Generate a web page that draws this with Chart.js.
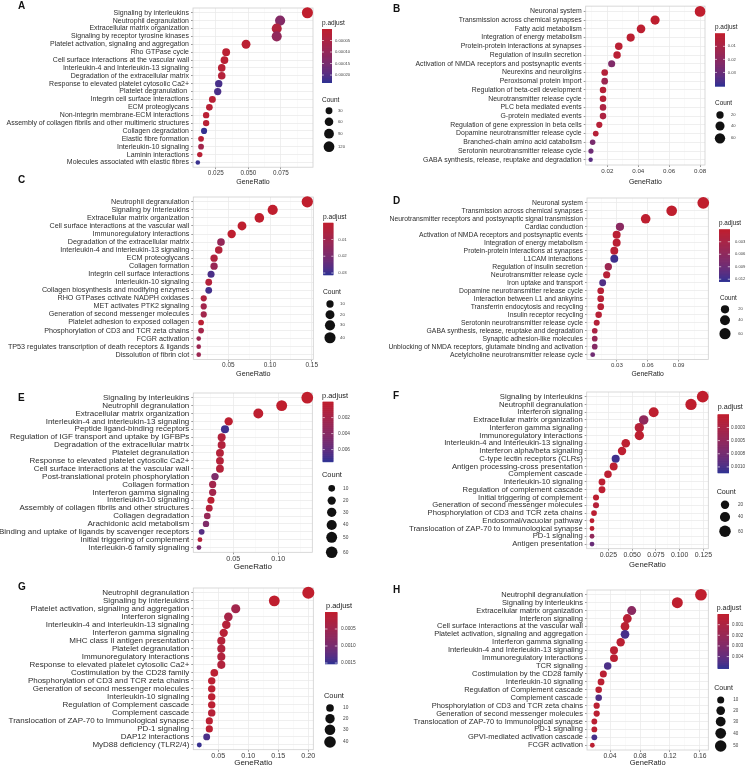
<!DOCTYPE html>
<html><head><meta charset="utf-8">
<script src="https://cdn.jsdelivr.net/npm/chart.js@4.4.1/dist/chart.umd.min.js"></script>
<style>
html,body{margin:0;padding:0;background:#fff;}
#wrap{position:relative;width:750px;height:768px;overflow:hidden;background:#fff;}
canvas{position:absolute;}
.lbl{position:absolute;font:bold 10px "Liberation Sans",Arial,sans-serif;line-height:10px;color:#111;}
</style></head><body><div id="wrap"></div>
<script>
// ---------------- DATA ----------------
const A_terms = ["Signaling by interleukins","Neutrophil degranulation","Extracellular matrix organization","Signaling by receptor tyrosine kinases","Platelet activation, signaling and aggregation","Rho GTPase cycle","Cell surface interactions at the vascular wall","Interleukin-4 and Interleukin-13 signaling","Degradation of the extracellular matrix","Response to elevated platelet cytosolic Ca2+","Platelet degranulation ","Integrin cell surface interactions","ECM proteoglycans","Non-integrin membrane-ECM interactions","Assembly of collagen fibrils and other multimeric structures","Collagen degradation","Elastic fibre formation","Interleukin-10 signaling","Laminin interactions","Molecules associated with elastic fibres"];
const A_ratio = [0.0955,0.0745,0.0719,0.0719,0.0483,0.0330,0.0317,0.0296,0.0296,0.0273,0.0265,0.0224,0.0201,0.0176,0.0176,0.0160,0.0137,0.0137,0.0127,0.0112];
const A_count = [130,101,98,98,66,45,43,40,40,37,36,30,27,24,24,22,19,19,17,15];
const A_padj = [0.000001,0.00013,0.000035,0.000105,0.000012,0.000012,0.000015,0.00002,0.000028,0.000213,0.00021,0.00002,0.00002,0.000015,0.00002,0.000228,0.00002,0.00007,0.00002,0.000225];
const A_prange = [0, 0.000232];
const A_xticks = [0.025,0.05,0.075], A_xlabels = ["0.025","0.050","0.075"], A_xminor = [0.0125,0.0375,0.0625,0.0875];
const A_pbreaks = [0.00005,0.0001,0.00015,0.0002], A_plabels = ["0.00005","0.00010","0.00015","0.00020"];
const A_sbreaks = [30,60,90,120];

const B_terms = ["Neuronal system","Transmission across chemical synapses","Fatty acid metabolism","Integration of energy metabolism","Protein-protein interactions at synapses","Regulation of insulin secretion","Activation of NMDA receptors and postsynaptic events","Neurexins and neuroligins","Peroxisomal protein import","Regulation of beta-cell development","Neurotransmitter release cycle","PLC beta mediated events","G-protein mediated events","Regulation of gene expression in beta cells","Dopamine neurotransmitter release cycle","Branched-chain amino acid catabolism","Serotonin neurotransmitter release cycle","GABA synthesis, release, reuptake and degradation"];
const B_ratio = [0.0800,0.0509,0.0418,0.0351,0.0274,0.0263,0.0228,0.0183,0.0183,0.0172,0.0172,0.0172,0.0172,0.0148,0.0125,0.0105,0.0094,0.0092];
const B_count = [65,41,34,28,22,21,18,15,15,14,14,14,14,12,10,9,8,7];
const B_padj = [0.0002,0.0008,0.0015,0.002,0.0025,0.003,0.024,0.005,0.014,0.004,0.004,0.008,0.008,0.004,0.004,0.026,0.029,0.034];
const B_prange = [0, 0.0404];
const B_xticks = [0.02,0.04,0.06,0.08], B_xlabels = ["0.02","0.04","0.06","0.08"], B_xminor = [0.01,0.03,0.05,0.07];
const B_pbreaks = [0.01,0.02,0.03], B_plabels = ["0.01","0.02","0.03"];
const B_sbreaks = [20,40,60];

const C_terms = ["Neutrophil degranulation","Signaling by Interleukins","Extracellular matrix organization","Cell surface interactions at the vascular wall","Immunoregulatory interactions","Degradation of the extracellular matrix","Interleukin-4 and interleukin-13 signaling","ECM proteoglycans","Collagen formation","Integrin cell surface interactions","Interleukin-10 signaling","Collagen biosynthesis and modifying enzymes","RHO GTPases cctivate NADPH oxidases","MET activates PTK2 signaling","Generation of second messenger molecules","Platelet adhesion to exposed collagen","Phosphorylation of CD3 and TCR zeta chains","FCGR activation","TP53 regulates transcription of death receptors & ligands","Dissolution of fibrin clot"];
const C_ratio = [0.1447,0.1032,0.0872,0.0664,0.0540,0.0412,0.0385,0.0329,0.0329,0.0293,0.0265,0.0265,0.0205,0.0205,0.0205,0.0173,0.0173,0.0145,0.0145,0.0145];
const C_count = [42,30,25,19,16,12,11,10,10,9,8,8,6,6,6,5,5,4,4,4];
const C_padj = [0.0001,0.0003,0.0003,0.0005,0.0008,0.013,0.004,0.0052,0.012,0.028,0.0038,0.029,0.0056,0.0093,0.0093,0.002,0.0087,0.011,0.011,0.011];
const C_prange = [0, 0.031];
const C_xticks = [0.05,0.10,0.15], C_xlabels = ["0.05","0.10","0.15"], C_xminor = [0.025,0.075,0.125];
const C_pbreaks = [0.01,0.02,0.03], C_plabels = ["0.01","0.02","0.03"];
const C_sbreaks = [10,20,30,40];

const D_terms = ["Neuronal system","Transmission across chemical synapses","Neurotransmitter receptors and postsynaptic signal transmission","Cardiac conduction","Activation of NMDA receptors and postsynaptic events","Integration of energy metabolism","Protein-protein interactions at synapses","L1CAM interactions","Regulation of insulin secretion","Neurotransmitter release cycle","Iron uptake and transport","Dopamine neurotransmitter release cycle","Interaction between L1 and ankyrins","Transferrin endocytosis and recycling","Insulin receptor recycling","Serotonin neurotransmitter release cycle","GABA synthesis, release, reuptake and degradation","Synaptic adhesion-like molecules","Unblocking of NMDA receptors, glutamate binding and activation","Acetylcholine neurotransmitter release cycle"];
const D_ratio = [0.1140,0.0833,0.0580,0.0330,0.0298,0.0298,0.0275,0.0275,0.0217,0.0201,0.0162,0.0143,0.0143,0.0143,0.0123,0.0104,0.0085,0.0085,0.0085,0.0065];
const D_count = [70,51,36,20,18,18,17,17,13,12,10,9,9,9,8,6,5,5,5,4];
const D_padj = [0.00001,0.0001,0.0003,0.0063,0.0008,0.0008,0.001,0.0119,0.0044,0.0012,0.011,0.0012,0.0012,0.0012,0.0012,0.0015,0.0028,0.005,0.0069,0.0088];
const D_prange = [0, 0.0125];
const D_xticks = [0.03,0.06,0.09], D_xlabels = ["0.03","0.06","0.09"], D_xminor = [0.015,0.045,0.075,0.105];
const D_pbreaks = [0.003,0.006,0.009,0.012], D_plabels = ["0.003","0.006","0.009","0.012"];
const D_sbreaks = [20,40,60];

const E_terms = ["Signaling by interleukins","Neutrophil degranulation","Extracellular matrix organization","Interleukin-4 and interleukin-13 signaling","Peptide ligand-binding receptors","Regulation of IGF transport and uptake by IGFBPs","Degradation of the extracellular matrix","Platelet degranulation","Response to elevated platelet cytosolic Ca2+","Cell surface interactions at the vascular wall","Post-translational protein phosphorylation","Collagen formation","Interferon gamma signaling","Interleukin-10 signaling","Assembly of collagen fibrils and other structures","Collagen degradation","Arachidonic acid metabolism","Binding and uptake of ligands by scavenger receptors","Initial triggering of complement","Interleukin-6 family signaling"];
const E_ratio = [0.1322,0.1038,0.0778,0.0449,0.0408,0.0371,0.0371,0.0352,0.0352,0.0352,0.0297,0.0271,0.0271,0.0252,0.0233,0.0211,0.0197,0.0149,0.0130,0.0119];
const E_count = [63,50,37,21,19,18,18,17,17,17,14,13,13,12,11,10,9,7,6,6];
const E_padj = [0.00001,0.0001,0.0002,0.0003,0.0071,0.0011,0.0011,0.0009,0.0009,0.0009,0.0045,0.0022,0.0022,0.0004,0.0011,0.003,0.0045,0.0064,0.0008,0.0049];
const E_prange = [0, 0.0075];
const E_xticks = [0.05,0.10], E_xlabels = ["0.05","0.10"], E_xminor = [0.025,0.075,0.125];
const E_pbreaks = [0.002,0.004,0.006], E_plabels = ["0.002","0.004","0.006"];
const E_sbreaks = [10,20,30,40,50,60];

const F_terms = ["Signaling by interleukins","Neutrophil degranulation","Interferon signaling","Extracellular matrix organization","Interferon gamma signaling","Immunoregulatory interactions","Interleukin-4 and Interleukin-13 signaling","Interferon alpha/beta signaling","C-type lectin receptors (CLRs)","Antigen processing-cross presentation","Complement cascade","Interleukin-10 signaling","Regulation of complement cascade","Initial triggering of complement","Generation of second messenger molecules","Phosphorylation of CD3 and TCR zeta chains","Endosomal/vacuolar pathway","Translocation of ZAP-70 to Immunological synapse","PD-1 signaling","Antigen presentation"];
const F_ratio = [0.1243,0.1120,0.0727,0.0622,0.0576,0.0576,0.0433,0.0394,0.0327,0.0306,0.0246,0.0183,0.0183,0.0120,0.0120,0.0099,0.0078,0.0078,0.0078,0.0078];
const F_count = [64,57,37,32,30,30,22,20,17,16,13,9,9,6,6,5,4,4,4,4];
const F_padj = [0.000001,0.00001,0.00002,0.0005,0.00011,0.00003,0.00003,0.00004,0.00105,0.00004,0.00005,0.00005,0.00005,0.00005,0.00013,0.00006,0.00006,0.00006,0.0005,0.00083];
const F_prange = [0, 0.00111];
const F_xticks = [0.025,0.05,0.075,0.1,0.125], F_xlabels = ["0.025","0.050","0.075","0.100","0.125"], F_xminor = [0.0125,0.0375,0.0625,0.0875,0.1125];
const F_pbreaks = [0.00025,0.0005,0.00075,0.001], F_plabels = ["0.0003","0.0005","0.0008","0.0010"];
const F_sbreaks = [20,40,60];

const G_terms = ["Neutrophil degranulation","Signaling by interleukins","Platelet activation, signaling and aggregation","Interferon signaling","Interleukin-4 and interleukin-13 signaling","Interferon gamma signaling","MHC class II antigen presentation","Platelet degranulation","Immunoregulatory interactions","Response to elevated platelet cytosolic Ca2+","Costimulation by the CD28 family","Phosphorylation of CD3 and TCR zeta chains","Generation of second messenger molecules","Interleukin-10 signaling","Regulation of Complement cascade","Complement cascade","Translocation of ZAP-70 to Immunological synapse","PD-1 signaling","DAP12 interactions","MyD88 deficiency (TLR2/4)"];
const G_ratio = [0.2000,0.1433,0.0790,0.0667,0.0633,0.0590,0.0550,0.0550,0.0550,0.0550,0.0433,0.0390,0.0390,0.0390,0.0390,0.0390,0.0350,0.0350,0.0306,0.0183];
const G_count = [45,32,18,15,14,13,12,12,12,12,10,9,9,9,9,9,8,8,7,4];
const G_padj = [0.000001,0.00001,0.00045,0.00038,0.00018,0.00012,0.00018,0.00023,0.00023,0.00023,0.00008,0.00008,0.00008,0.00008,0.00008,0.00015,0.00008,0.00008,0.00137,0.00148];
const G_prange = [0, 0.00152];
const G_xticks = [0.05,0.10,0.15,0.20], G_xlabels = ["0.05","0.10","0.15","0.20"], G_xminor = [0.025,0.075,0.125,0.175];
const G_pbreaks = [0.0005,0.001,0.0015], G_plabels = ["0.0005","0.0010","0.0015"];
const G_sbreaks = [10,20,30,40];

const H_terms = ["Neutrophil degranulation","Signaling by interleukins","Extracellular matrix organization","Interferon signaling","Cell surface interactions at the vascular wall","Platelet activation, signaling and aggregation","Interferon gamma signaling","Interleukin-4 and Interleukin-13 signaling","Immunoregulatory interactions","TCR signaling","Costimulation by the CD28 family","Interleukin-10 signaling","Regulation of Complement cascade","Complement cascade","Phosphorylation of CD3 and TCR zeta chains","Generation of second messenger molecules","Translocation of ZAP-70 to Immunological synapse","PD-1 signaling","GPVI-mediated activation cascade","FCGR activation"];
const H_ratio = [0.1613,0.1298,0.0689,0.0631,0.0600,0.0600,0.0542,0.0453,0.0453,0.0369,0.0311,0.0280,0.0249,0.0249,0.0222,0.0222,0.0191,0.0191,0.0191,0.0164];
const H_count = [53,43,23,21,20,20,18,15,15,12,10,9,8,8,7,7,6,6,6,5];
const H_padj = [0.00001,0.0001,0.0026,0.00035,0.0003,0.0047,0.0003,0.0003,0.0003,0.0046,0.0003,0.0003,0.0003,0.0045,0.0003,0.0003,0.0003,0.0003,0.0047,0.0003];
const H_prange = [0, 0.0051];
const H_xticks = [0.04,0.08,0.12,0.16], H_xlabels = ["0.04","0.08","0.12","0.16"], H_xminor = [0.02,0.06,0.10,0.14];
const H_pbreaks = [0.001,0.002,0.003,0.004], H_plabels = ["0.001","0.002","0.003","0.004"];
const H_sbreaks = [10,20,30,40,50];

// ---------------- LAYOUT (page pixels) ----------------
const LAYOUT = {
 A:{left:0,  plot:[193,8.3,313,167.5],   tick:173.3, title:182.7, fs:7.0, k:1.3,  x:[0.0075,0.0998], letter:[18,2.7],
    cbT:[322,24], bar:[322,29.3,332,82.7], cbLx:335, szT:[322,101], szCx:329, szYs:[111,122,134,147], szLx:338},
 B:{left:375,plot:[585.7,4,705,165],     tick:171.7, title:181.7, fs:6.9, k:1.25, x:[0.006,0.0832], letter:[393,5],
    cbT:[715,27.7], bar:[715,33.3,725,86], cbLx:727.7, szT:[715,103.3], szCx:720, szYs:[115,126,138.3], szLx:731},
 C:{left:0,  plot:[193.3,197,313.3,359.5],tick:365.2, title:374.3, fs:7.2, k:1.33, x:[0.008,0.1519], letter:[18,176.7],
    cbT:[323,217], bar:[323.3,222.7,333.3,274.7], cbLx:338.3, szT:[323,292], szCx:330, szYs:[304,314.7,325.3,337.7], szLx:340},
 D:{left:375,plot:[587,198,708.3,359.5], tick:365,   title:374,   fs:6.8, k:1.38, x:[0.00097,0.1189], letter:[393,197],
    cbT:[719,223], bar:[719,229.3,730,281.3], cbLx:735, szT:[720,298], szCx:725, szYs:[309.3,320.3,333.7], szLx:738.3},
 E:{left:0,  plot:[193.3,392.7,312.3,552],tick:557,   title:566,   fs:8.0, k:1.38, x:[0.0056,0.1378], letter:[18,394.7],
    cbT:[322,396], bar:[322.7,401.3,333.3,461.3], cbLx:338, szT:[322,474.7], szCx:331.7, szYs:[488,500.3,512,524.7,537,552], szLx:343},
 F:{left:375,plot:[586.7,392,708.3,548.7],tick:555.3, title:564.7, fs:7.7, k:1.38, x:[0.0022,0.1302], letter:[393,392],
    cbT:[717.7,407], bar:[717.7,414.3,729,472.7], cbLx:731, szT:[716.7,492], szCx:725, szYs:[504.7,517,531.3], szLx:738},
 G:{left:0,  plot:[193.3,588,313.3,749.7],tick:755.7, title:762.3, fs:8.0, k:1.42, x:[0.0083,0.2083], letter:[18,583],
    cbT:[326,605.7], bar:[325,612,337.3,663.7], cbLx:341, szT:[324,696.3], szCx:330, szYs:[708,718.7,729.7,742], szLx:343},
 H:{left:375,plot:[587,589.7,708.3,749.7],tick:755.7, title:763,   fs:7.5, k:1.38, x:[0.0093,0.1711], letter:[393,586.3],
    cbT:[716.7,607.3], bar:[717.7,613.7,729,668], cbLx:732, szT:[714.3,688], szCx:720.7, szYs:[699.7,710.3,721.3,733,745.7], szLx:733.3}
};

// ---------------- colour scale (Lab interpolation, like ggplot) ----------------
const LOW = [192,30,45], HIGH = [46,49,146];
function lin(c){c/=255;return c<=0.04045?c/12.92:Math.pow((c+0.055)/1.055,2.4);}
function gam(c){c=c<=0.0031308?12.92*c:1.055*Math.pow(c,1/2.4)-0.055;return Math.round(Math.min(1,Math.max(0,c))*255);}
const Xn=0.95047,Zn=1.08883;
function ff(t){return t>0.008856?Math.cbrt(t):7.787*t+16/116;}
function fi(t){return t>0.206893?t*t*t:(t-16/116)/7.787;}
function toLab(c){const r=lin(c[0]),g=lin(c[1]),b=lin(c[2]);
  const X=(0.4124564*r+0.3575761*g+0.1804375*b)/Xn,Y=(0.2126729*r+0.7151522*g+0.0721750*b),Z=(0.0193339*r+0.1191920*g+0.9503041*b)/Zn;
  const fx=ff(X),fy=ff(Y),fz=ff(Z);return [116*fy-16,500*(fx-fy),200*(fy-fz)];}
function fromLab(l){const fy=(l[0]+16)/116,fx=fy+l[1]/500,fz=fy-l[2]/200;
  const X=fi(fx)*Xn,Y=fi(fy),Z=fi(fz)*Zn;
  const r=3.2404542*X-1.5371385*Y-0.4985314*Z,g=-0.9692660*X+1.8760108*Y+0.0415560*Z,b=0.0556434*X-0.2040259*Y+1.0572252*Z;
  return 'rgb('+gam(r)+','+gam(g)+','+gam(b)+')';}
const LLO=toLab(LOW), LHI=toLab(HIGH);
function colAt(t){t=Math.max(0,Math.min(1,t));return fromLab([0,1,2].map(i=>LLO[i]+(LHI[i]-LLO[i])*t));}

const FAM = "'Liberation Sans', Arial, sans-serif";
const wrap = document.getElementById('wrap');

function panel(id, d){
  const L = LAYOUT[id];
  const [pL,pT,pR,pB] = L.plot;
  const cTop = Math.max(0, pT - 8), cLeft = L.left, W = 375;
  const bottomEdge = L.title + 0.6*L.fs;
  const H = Math.ceil(bottomEdge - cTop);
  const cv = document.createElement('canvas');
  cv.width = W; cv.height = H; cv.style.left = cLeft+'px'; cv.style.top = cTop+'px';
  wrap.appendChild(cv);
  const n = d.terms.length;
  const cmin = Math.min(...d.count), cmax = Math.max(...d.count);
  const R = c => L.k*(3.5+5*Math.sqrt(Math.max(0,(c-cmin)/(cmax-cmin))))/2;
  const pcol = p => colAt((p-d.prange[0])/(d.prange[1]-d.prange[0]));
  const tfs = L.fs*0.9;
  const xPad = Math.max(0, L.tick - pB - 2 - 0.6*tfs);
  const xt = d.xticks.map((v,i)=>({value:v,lab:d.xlabels[i],minor:false}))
      .concat(d.xminor.map(v=>({value:v,lab:'',minor:true}))).sort((a,b)=>a.value-b.value);
  const lt = L.fs*0.93, lf = L.fs*0.6;
  const plug = {
    id:'gg'+id,
    beforeDatasetsDraw(chart){
      const a = chart.chartArea, c = chart.ctx;
      c.save(); c.strokeStyle='#cfcfcf'; c.lineWidth=0.8;
      c.strokeRect(a.left, a.top, a.right-a.left, a.bottom-a.top); c.restore();
    },
    afterDraw(chart){
      const c = chart.ctx; c.save();
      const ox = cLeft, oy = cTop;
      c.fillStyle='#222'; c.font = lt+'px '+FAM; c.textBaseline='middle'; c.textAlign='left';
      c.fillText('p.adjust', L.cbT[0]-ox, L.cbT[1]-oy);
      const [bx0,by0,bx1,by1] = L.bar; const bw=bx1-bx0, bh=by1-by0;
      const steps=150;
      for(let i=0;i<steps;i++){
        c.fillStyle = colAt((i+0.5)/steps);
        c.fillRect(bx0-ox, by0-oy+bh*i/steps, bw, bh/steps+0.6);
      }
      c.strokeStyle='#fff'; c.lineWidth=0.6;
      c.font = lf+'px '+FAM;
      d.pbreaks.forEach((b,i)=>{
        const y = by0-oy + (b-d.prange[0])/(d.prange[1]-d.prange[0])*bh;
        c.beginPath(); c.moveTo(bx0-ox,y); c.lineTo(bx0-ox+bw*0.2,y);
        c.moveTo(bx1-ox-bw*0.2,y); c.lineTo(bx1-ox,y); c.stroke();
        c.fillStyle='#444'; c.fillText(d.plabels[i], L.cbLx-ox, y);
      });
      c.fillStyle='#222'; c.font = lt+'px '+FAM;
      c.fillText('Count', L.szT[0]-ox, L.szT[1]-oy);
      c.font = lf+'px '+FAM;
      d.sbreaks.forEach((b,i)=>{
        const y = L.szYs[i]-oy;
        c.fillStyle='#111'; c.beginPath(); c.arc(L.szCx-ox, y, R(b), 0, Math.PI*2); c.fill();
        c.fillStyle='#444'; c.fillText(String(b), L.szLx-ox, y);
      });
      c.restore();
    }
  };
  new Chart(cv, {
    type:'scatter',
    data:{ datasets:[{
      data: d.ratio.map((x,i)=>({x:x, y:i})),
      pointRadius: d.count.map(R), pointHoverRadius: d.count.map(R),
      backgroundColor: d.padj.map(pcol), borderWidth:0, pointBorderWidth:0, clip:false
    }]},
    options:{
      responsive:false, animation:false, events:[],
      layout:{ padding:{ left:0, top:pT-cTop, right:W-(pR-cLeft), bottom:H-(bottomEdge-cTop) } },
      plugins:{ legend:{display:false}, tooltip:{enabled:false} },
      scales:{
        x:{ type:'linear', min:L.x[0], max:L.x[1],
            afterBuildTicks:s=>{ s.ticks = xt.map(t=>({value:t.value,lab:t.lab,minor:t.minor})); },
            afterFit:s=>{ s.height = bottomEdge - pB; },
            ticks:{ autoSkip:false, maxRotation:0, minRotation:0, padding:xPad, color:'#3a3a3a',
                    font:{family:FAM,size:tfs}, callback:(v,i,ticks)=>ticks[i].lab },
            grid:{ drawTicks:true, tickLength:2,
                   color:ctx=>(ctx.tick&&ctx.tick.minor)?'#f4f4f4':'#ebebeb',
                   lineWidth:ctx=>(ctx.tick&&ctx.tick.minor)?0.5:0.8,
                   tickColor:ctx=>(ctx.tick&&ctx.tick.minor)?'rgba(0,0,0,0)':'#555', tickWidth:0.6 },
            border:{display:false},
            title:{ display:true, text:'GeneRatio', color:'#222', font:{family:FAM,size:L.fs}, padding:{top:0,bottom:0} } },
        y:{ type:'linear', reverse:true, min:-0.6, max:n-0.4,
            afterBuildTicks:s=>{ s.ticks = d.terms.map((t,i)=>({value:i})); },
            afterFit:s=>{ s.width = pL - cLeft; },
            ticks:{ autoSkip:false, padding:2, color:'#2e2e2e', font:{family:FAM,size:L.fs},
                    callback:(v)=>d.terms[Math.round(v)] },
            grid:{ drawTicks:true, tickLength:2, color:'#ebebeb', lineWidth:0.8, tickColor:'#555', tickWidth:0.6 },
            border:{display:false} }
      }
    },
    plugins:[plug]
  });
  const lab = document.createElement('div');
  lab.className='lbl'; lab.textContent=id;
  lab.style.left = L.letter[0]+'px'; lab.style.top = (L.letter[1]-1.3)+'px';
  wrap.appendChild(lab);
}

panel('A',{terms:A_terms,ratio:A_ratio,count:A_count,padj:A_padj,prange:A_prange,xticks:A_xticks,xlabels:A_xlabels,xminor:A_xminor,pbreaks:A_pbreaks,plabels:A_plabels,sbreaks:A_sbreaks});
panel('B',{terms:B_terms,ratio:B_ratio,count:B_count,padj:B_padj,prange:B_prange,xticks:B_xticks,xlabels:B_xlabels,xminor:B_xminor,pbreaks:B_pbreaks,plabels:B_plabels,sbreaks:B_sbreaks});
panel('C',{terms:C_terms,ratio:C_ratio,count:C_count,padj:C_padj,prange:C_prange,xticks:C_xticks,xlabels:C_xlabels,xminor:C_xminor,pbreaks:C_pbreaks,plabels:C_plabels,sbreaks:C_sbreaks});
panel('D',{terms:D_terms,ratio:D_ratio,count:D_count,padj:D_padj,prange:D_prange,xticks:D_xticks,xlabels:D_xlabels,xminor:D_xminor,pbreaks:D_pbreaks,plabels:D_plabels,sbreaks:D_sbreaks});
panel('E',{terms:E_terms,ratio:E_ratio,count:E_count,padj:E_padj,prange:E_prange,xticks:E_xticks,xlabels:E_xlabels,xminor:E_xminor,pbreaks:E_pbreaks,plabels:E_plabels,sbreaks:E_sbreaks});
panel('F',{terms:F_terms,ratio:F_ratio,count:F_count,padj:F_padj,prange:F_prange,xticks:F_xticks,xlabels:F_xlabels,xminor:F_xminor,pbreaks:F_pbreaks,plabels:F_plabels,sbreaks:F_sbreaks});
panel('G',{terms:G_terms,ratio:G_ratio,count:G_count,padj:G_padj,prange:G_prange,xticks:G_xticks,xlabels:G_xlabels,xminor:G_xminor,pbreaks:G_pbreaks,plabels:G_plabels,sbreaks:G_sbreaks});
panel('H',{terms:H_terms,ratio:H_ratio,count:H_count,padj:H_padj,prange:H_prange,xticks:H_xticks,xlabels:H_xlabels,xminor:H_xminor,pbreaks:H_pbreaks,plabels:H_plabels,sbreaks:H_sbreaks});
</script>
</body></html>
